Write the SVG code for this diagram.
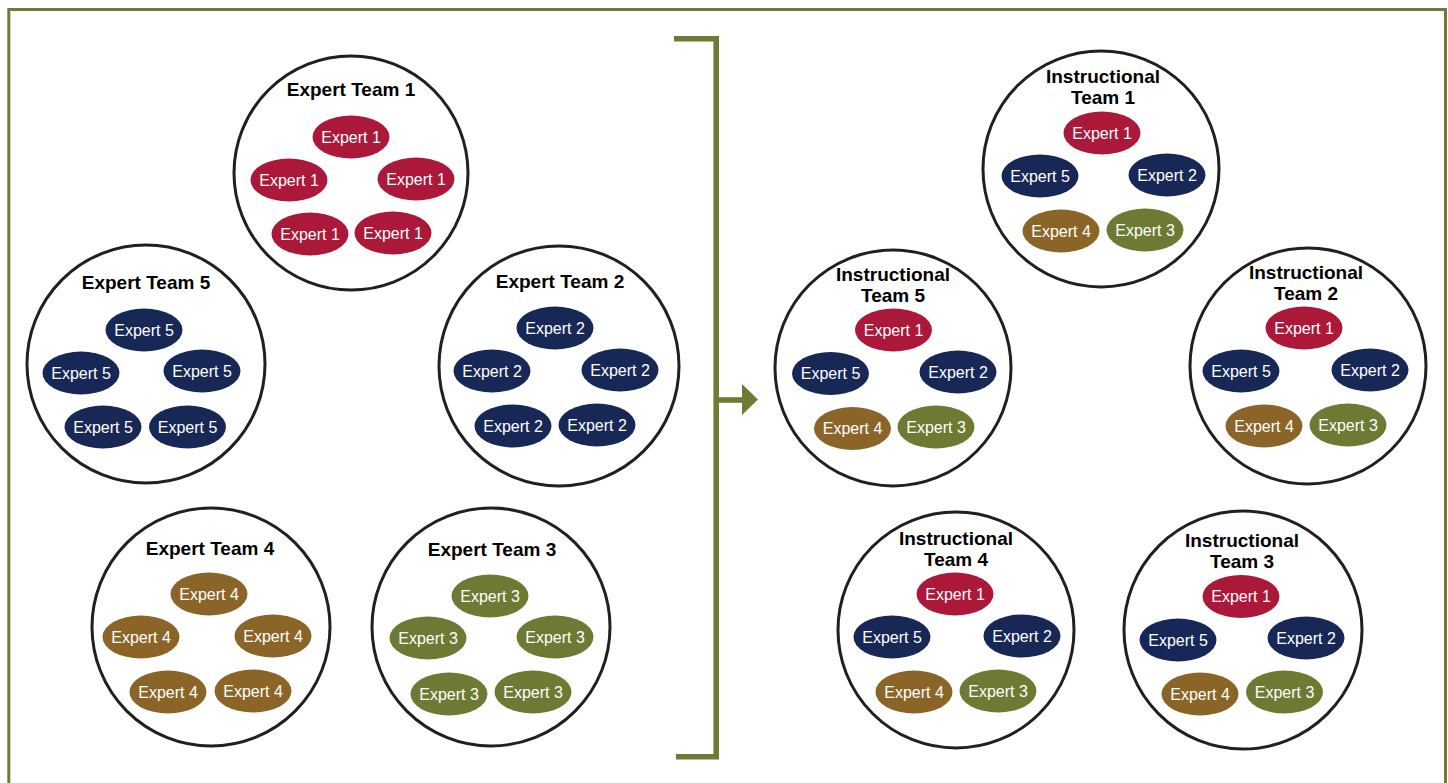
<svg xmlns="http://www.w3.org/2000/svg" width="1448" height="783" viewBox="0 0 1448 783">
<style>
.team{fill:#ffffff;stroke:#231f20;stroke-width:3}
.title{font-family:"Liberation Sans",Arial,sans-serif;font-weight:bold;font-size:19px;fill:#000;text-anchor:middle}
.lbl{font-family:"Liberation Sans",Arial,sans-serif;font-size:16px;fill:#fff;text-anchor:middle}
.e1{fill:#ab1839}.e2{fill:#172756}.e3{fill:#6c7a33}.e4{fill:#8b6527}.e5{fill:#172756}
.frame{fill:none;stroke:#6f7a35;stroke-width:3}
.conn{fill:none;stroke:#6f7a35;stroke-width:5.6;stroke-linejoin:miter;stroke-linecap:butt}
</style>
<rect class="frame" x="8.8" y="9.5" width="1436.7" height="800"/>

<g id="expert-team-1">
<circle class="team" cx="351" cy="173" r="117"/>
<text class="title" x="351" y="96">Expert Team 1</text>
<ellipse class="e1" cx="351" cy="137" rx="38.5" ry="21.5"/><text class="lbl" x="351" y="142.5">Expert 1</text>
<ellipse class="e1" cx="289" cy="180" rx="38.5" ry="21.5"/><text class="lbl" x="289" y="185.5">Expert 1</text>
<ellipse class="e1" cx="416" cy="179" rx="38.5" ry="21.5"/><text class="lbl" x="416" y="184.5">Expert 1</text>
<ellipse class="e1" cx="310" cy="234" rx="38.5" ry="21.5"/><text class="lbl" x="310" y="239.5">Expert 1</text>
<ellipse class="e1" cx="393" cy="233" rx="38.5" ry="21.5"/><text class="lbl" x="393" y="238.5">Expert 1</text>
</g>

<g id="expert-team-5">
<circle class="team" cx="146" cy="364" r="119"/>
<text class="title" x="146" y="289">Expert Team 5</text>
<ellipse class="e5" cx="144" cy="330" rx="38.5" ry="21.5"/><text class="lbl" x="144" y="335.5">Expert 5</text>
<ellipse class="e5" cx="81" cy="373" rx="38.5" ry="21.5"/><text class="lbl" x="81" y="378.5">Expert 5</text>
<ellipse class="e5" cx="202" cy="371" rx="38.5" ry="21.5"/><text class="lbl" x="202" y="376.5">Expert 5</text>
<ellipse class="e5" cx="103" cy="427" rx="38.5" ry="21.5"/><text class="lbl" x="103" y="432.5">Expert 5</text>
<ellipse class="e5" cx="187.5" cy="427" rx="38.5" ry="21.5"/><text class="lbl" x="187.5" y="432.5">Expert 5</text>
</g>

<g id="expert-team-2">
<circle class="team" cx="559" cy="366" r="120"/>
<text class="title" x="560" y="288">Expert Team 2</text>
<ellipse class="e2" cx="555" cy="328" rx="38.5" ry="21.5"/><text class="lbl" x="555" y="333.5">Expert 2</text>
<ellipse class="e2" cx="492" cy="371" rx="38.5" ry="21.5"/><text class="lbl" x="492" y="376.5">Expert 2</text>
<ellipse class="e2" cx="620" cy="370" rx="38.5" ry="21.5"/><text class="lbl" x="620" y="375.5">Expert 2</text>
<ellipse class="e2" cx="513" cy="426" rx="38.5" ry="21.5"/><text class="lbl" x="513" y="431.5">Expert 2</text>
<ellipse class="e2" cx="597" cy="425" rx="38.5" ry="21.5"/><text class="lbl" x="597" y="430.5">Expert 2</text>
</g>

<g id="expert-team-4">
<circle class="team" cx="211" cy="627" r="119"/>
<text class="title" x="210" y="555">Expert Team 4</text>
<ellipse class="e4" cx="209" cy="594" rx="38.5" ry="21.5"/><text class="lbl" x="209" y="599.5">Expert 4</text>
<ellipse class="e4" cx="141" cy="637" rx="38.5" ry="21.5"/><text class="lbl" x="141" y="642.5">Expert 4</text>
<ellipse class="e4" cx="273" cy="636" rx="38.5" ry="21.5"/><text class="lbl" x="273" y="641.5">Expert 4</text>
<ellipse class="e4" cx="168" cy="692" rx="38.5" ry="21.5"/><text class="lbl" x="168" y="697.5">Expert 4</text>
<ellipse class="e4" cx="253" cy="691" rx="38.5" ry="21.5"/><text class="lbl" x="253" y="696.5">Expert 4</text>
</g>

<g id="expert-team-3">
<circle class="team" cx="491" cy="627" r="119"/>
<text class="title" x="492" y="556">Expert Team 3</text>
<ellipse class="e3" cx="490" cy="596" rx="38.5" ry="21.5"/><text class="lbl" x="490" y="601.5">Expert 3</text>
<ellipse class="e3" cx="428" cy="638" rx="38.5" ry="21.5"/><text class="lbl" x="428" y="643.5">Expert 3</text>
<ellipse class="e3" cx="555" cy="637" rx="38.5" ry="21.5"/><text class="lbl" x="555" y="642.5">Expert 3</text>
<ellipse class="e3" cx="449" cy="694" rx="38.5" ry="21.5"/><text class="lbl" x="449" y="699.5">Expert 3</text>
<ellipse class="e3" cx="533" cy="692" rx="38.5" ry="21.5"/><text class="lbl" x="533" y="697.5">Expert 3</text>
</g>

<g id="instructional-team-1">
<circle class="team" cx="1101" cy="169" r="118"/>
<text class="title" x="1103" y="83">Instructional</text>
<text class="title" x="1103" y="104">Team 1</text>
<ellipse class="e1" cx="1102" cy="133" rx="38.5" ry="21.5"/><text class="lbl" x="1102" y="138.5">Expert 1</text>
<ellipse class="e5" cx="1040" cy="176" rx="38.5" ry="21.5"/><text class="lbl" x="1040" y="181.5">Expert 5</text>
<ellipse class="e2" cx="1167" cy="175" rx="38.5" ry="21.5"/><text class="lbl" x="1167" y="180.5">Expert 2</text>
<ellipse class="e4" cx="1061" cy="231" rx="38.5" ry="21.5"/><text class="lbl" x="1061" y="236.5">Expert 4</text>
<ellipse class="e3" cx="1145" cy="230" rx="38.5" ry="21.5"/><text class="lbl" x="1145" y="235.5">Expert 3</text>
</g>

<g id="instructional-team-5">
<circle class="team" cx="893" cy="368" r="118"/>
<text class="title" x="893" y="280.5">Instructional</text>
<text class="title" x="893" y="301.5">Team 5</text>
<ellipse class="e1" cx="893.5" cy="330" rx="38.5" ry="21.5"/><text class="lbl" x="893.5" y="335.5">Expert 1</text>
<ellipse class="e5" cx="830.5" cy="373.5" rx="38.5" ry="21.5"/><text class="lbl" x="830.5" y="379">Expert 5</text>
<ellipse class="e2" cx="958" cy="372" rx="38.5" ry="21.5"/><text class="lbl" x="958" y="377.5">Expert 2</text>
<ellipse class="e4" cx="852.5" cy="428.5" rx="38.5" ry="21.5"/><text class="lbl" x="852.5" y="434">Expert 4</text>
<ellipse class="e3" cx="936" cy="427" rx="38.5" ry="21.5"/><text class="lbl" x="936" y="432.5">Expert 3</text>
</g>

<g id="instructional-team-2">
<circle class="team" cx="1308" cy="366" r="118"/>
<text class="title" x="1306" y="279">Instructional</text>
<text class="title" x="1306" y="300">Team 2</text>
<ellipse class="e1" cx="1304" cy="328" rx="38.5" ry="21.5"/><text class="lbl" x="1304" y="333.5">Expert 1</text>
<ellipse class="e5" cx="1241" cy="371" rx="38.5" ry="21.5"/><text class="lbl" x="1241" y="376.5">Expert 5</text>
<ellipse class="e2" cx="1370" cy="370" rx="38.5" ry="21.5"/><text class="lbl" x="1370" y="375.5">Expert 2</text>
<ellipse class="e4" cx="1264" cy="426" rx="38.5" ry="21.5"/><text class="lbl" x="1264" y="431.5">Expert 4</text>
<ellipse class="e3" cx="1348" cy="425" rx="38.5" ry="21.5"/><text class="lbl" x="1348" y="430.5">Expert 3</text>
</g>

<g id="instructional-team-4">
<circle class="team" cx="956" cy="630" r="118"/>
<text class="title" x="956" y="545">Instructional</text>
<text class="title" x="956" y="566">Team 4</text>
<ellipse class="e1" cx="955" cy="594" rx="38.5" ry="21.5"/><text class="lbl" x="955" y="599.5">Expert 1</text>
<ellipse class="e5" cx="892" cy="637" rx="38.5" ry="21.5"/><text class="lbl" x="892" y="642.5">Expert 5</text>
<ellipse class="e2" cx="1022" cy="636" rx="38.5" ry="21.5"/><text class="lbl" x="1022" y="641.5">Expert 2</text>
<ellipse class="e4" cx="914" cy="692" rx="38.5" ry="21.5"/><text class="lbl" x="914" y="697.5">Expert 4</text>
<ellipse class="e3" cx="998" cy="691" rx="38.5" ry="21.5"/><text class="lbl" x="998" y="696.5">Expert 3</text>
</g>

<g id="instructional-team-3">
<circle class="team" cx="1243" cy="630" r="119"/>
<text class="title" x="1242" y="547">Instructional</text>
<text class="title" x="1242" y="568">Team 3</text>
<ellipse class="e1" cx="1241" cy="596.5" rx="38.5" ry="21.5"/><text class="lbl" x="1241" y="602">Expert 1</text>
<ellipse class="e5" cx="1178" cy="640" rx="38.5" ry="21.5"/><text class="lbl" x="1178" y="645.5">Expert 5</text>
<ellipse class="e2" cx="1306" cy="638" rx="38.5" ry="21.5"/><text class="lbl" x="1306" y="643.5">Expert 2</text>
<ellipse class="e4" cx="1200" cy="694" rx="38.5" ry="21.5"/><text class="lbl" x="1200" y="699.5">Expert 4</text>
<ellipse class="e3" cx="1284.5" cy="692" rx="38.5" ry="21.5"/><text class="lbl" x="1284.5" y="697.5">Expert 3</text>
</g>

<g id="connectors">
<path class="conn" d="M674,38.8 H716.2 V756.7 H676"/>
<path class="conn" d="M716,400 H745"/>
<polygon points="742,384 758,399.5 742,415" fill="#6f7a35"/>
</g>
</svg>
